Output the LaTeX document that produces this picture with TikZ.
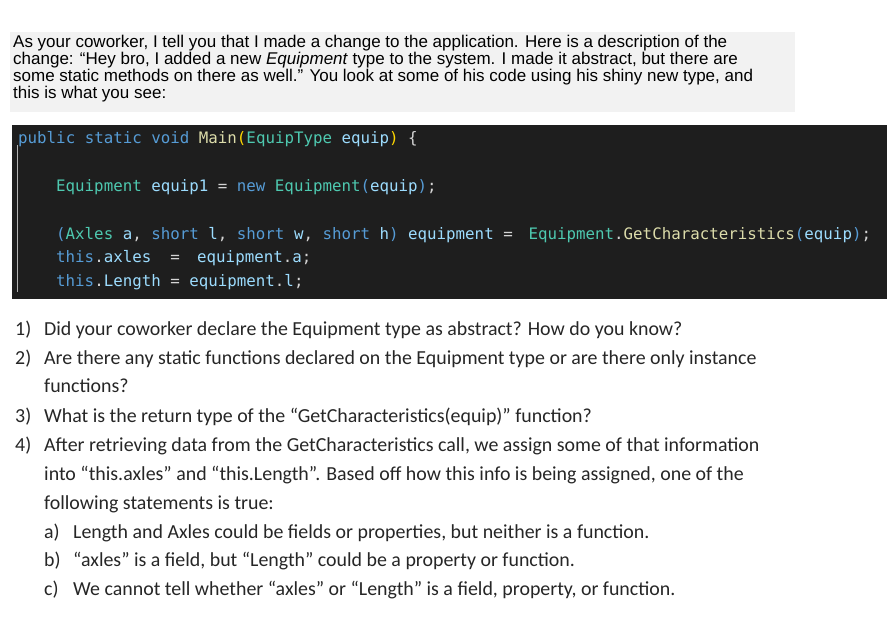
\documentclass[tikz,border=0pt]{standalone}
\usepackage{fontspec}
\setmainfont{Liberation Sans}
\newfontfamily\qfont{Carlito}
\newfontfamily\cfont{DejaVu Sans Mono}
\definecolor{kw}{HTML}{569CD6}
\definecolor{ty}{HTML}{4EC9B0}
\definecolor{fn}{HTML}{DCDCAA}
\definecolor{vr}{HTML}{9CDCFE}
\definecolor{br}{HTML}{FFD700}
\definecolor{pl}{HTML}{D4D4D4}
\definecolor{codebg}{HTML}{1E1E1E}
\definecolor{txtbg}{HTML}{F2F2F2}
\tikzset{
 intro/.style={anchor=base west,inner sep=0pt,font=\fontsize{17}{18}\selectfont},
 code/.style={anchor=base west,inner sep=0pt,font=\cfont\fontsize{15.8}{18}\selectfont,text=pl},
 q/.style={anchor=base west,inner sep=0pt,font=\qfont\fontsize{19.9}{20}\selectfont,text=black!85}
}
\begin{document}
\begin{tikzpicture}[x=1pt,y=-1pt]
\useasboundingbox (0,0) rectangle (896,632);
\fill[white] (0,0) rectangle (896,632);
\fill[txtbg] (10,32) rectangle (795,112);
\node[intro] (t1) at (13,47) {As your coworker, I tell you that I made a change to the application. Here is a description of the};
\node[intro] (t2) at (13,64) {change: “Hey bro, I added a new \textit{Equipment} type to the system. I made it abstract, but there are};
\node[intro] (t3) at (13,81) {some static methods on there as well.” You look at some of his code using his shiny new type, and};
\node[intro] (t4) at (13,98) {this is what you see:};
\fill[codebg] (12,125) rectangle (887,299);
\draw[gray!60] (17,145) -- (17,292);
\node[code] (c1) at (18,143) {\textcolor{kw}{public static void} \textcolor{fn}{Main}\textcolor{br}{(}\textcolor{ty}{EquipType} \textcolor{vr}{equip}\textcolor{br}{)} \{};
\node[code] (c2) at (56,191) {\textcolor{ty}{Equipment} \textcolor{vr}{equip1} = \textcolor{kw}{new} \textcolor{ty}{Equipment}\textcolor{kw}{(}\textcolor{vr}{equip}\textcolor{kw}{)};};
\node[code] (c3) at (56,239) {\textcolor{kw}{(}\textcolor{ty}{Axles} \textcolor{vr}{a}, \textcolor{kw}{short} \textcolor{vr}{l}, \textcolor{kw}{short} \textcolor{vr}{w}, \textcolor{kw}{short} \textcolor{vr}{h}\textcolor{kw}{)} \textcolor{vr}{equipment} =\hspace{1em}\textcolor{ty}{Equipment}.\textcolor{fn}{GetCharacteristics}\textcolor{kw}{(}\textcolor{vr}{equip}\textcolor{kw}{)};};
\node[code] (c4) at (56,262) {\textcolor{kw}{this}.\textcolor{vr}{axles}\hspace{0.6em} =\hspace{1.1em}\textcolor{vr}{equipment}.\textcolor{vr}{a};};
\node[code] (c5) at (56,286) {\textcolor{kw}{this}.\textcolor{vr}{Length} = \textcolor{vr}{equipment}.\textcolor{vr}{l};};
\node[q] (n1) at (15,335) {1)};
\node[q] (q1) at (44,335) {Did your coworker declare the Equipment type as abstract? How do you know?};
\node[q] (n2) at (15,364) {2)};
\node[q] (q2) at (44,364) {Are there any static functions declared on the Equipment type or are there only instance};
\node[q] (q2b) at (44,392) {functions?};
\node[q] (n3) at (15,422) {3)};
\node[q] (q3) at (44,422) {What is the return type of the “GetCharacteristics(equip)” function?};
\node[q] (n4) at (15,451) {4)};
\node[q] (q4) at (44,451) {After retrieving data from the GetCharacteristics call, we assign some of that information};
\node[q] (q4b) at (44,480) {into “this.axles” and “this.Length”. Based off how this info is being assigned, one of the};
\node[q] (q4c) at (44,509) {following statements is true:};
\node[q] (na) at (44,538) {a)};
\node[q] (qa) at (73,538) {Length and Axles could be fields or properties, but neither is a function.};
\node[q] (nb) at (44,566) {b)};
\node[q] (qb) at (73,566) {“axles” is a field, but “Length” could be a property or function.};
\node[q] (nc) at (44,595) {c)};
\node[q] (qc) at (73,595) {We cannot tell whether “axles” or “Length” is a field, property, or function.};
\end{tikzpicture}
\end{document}
